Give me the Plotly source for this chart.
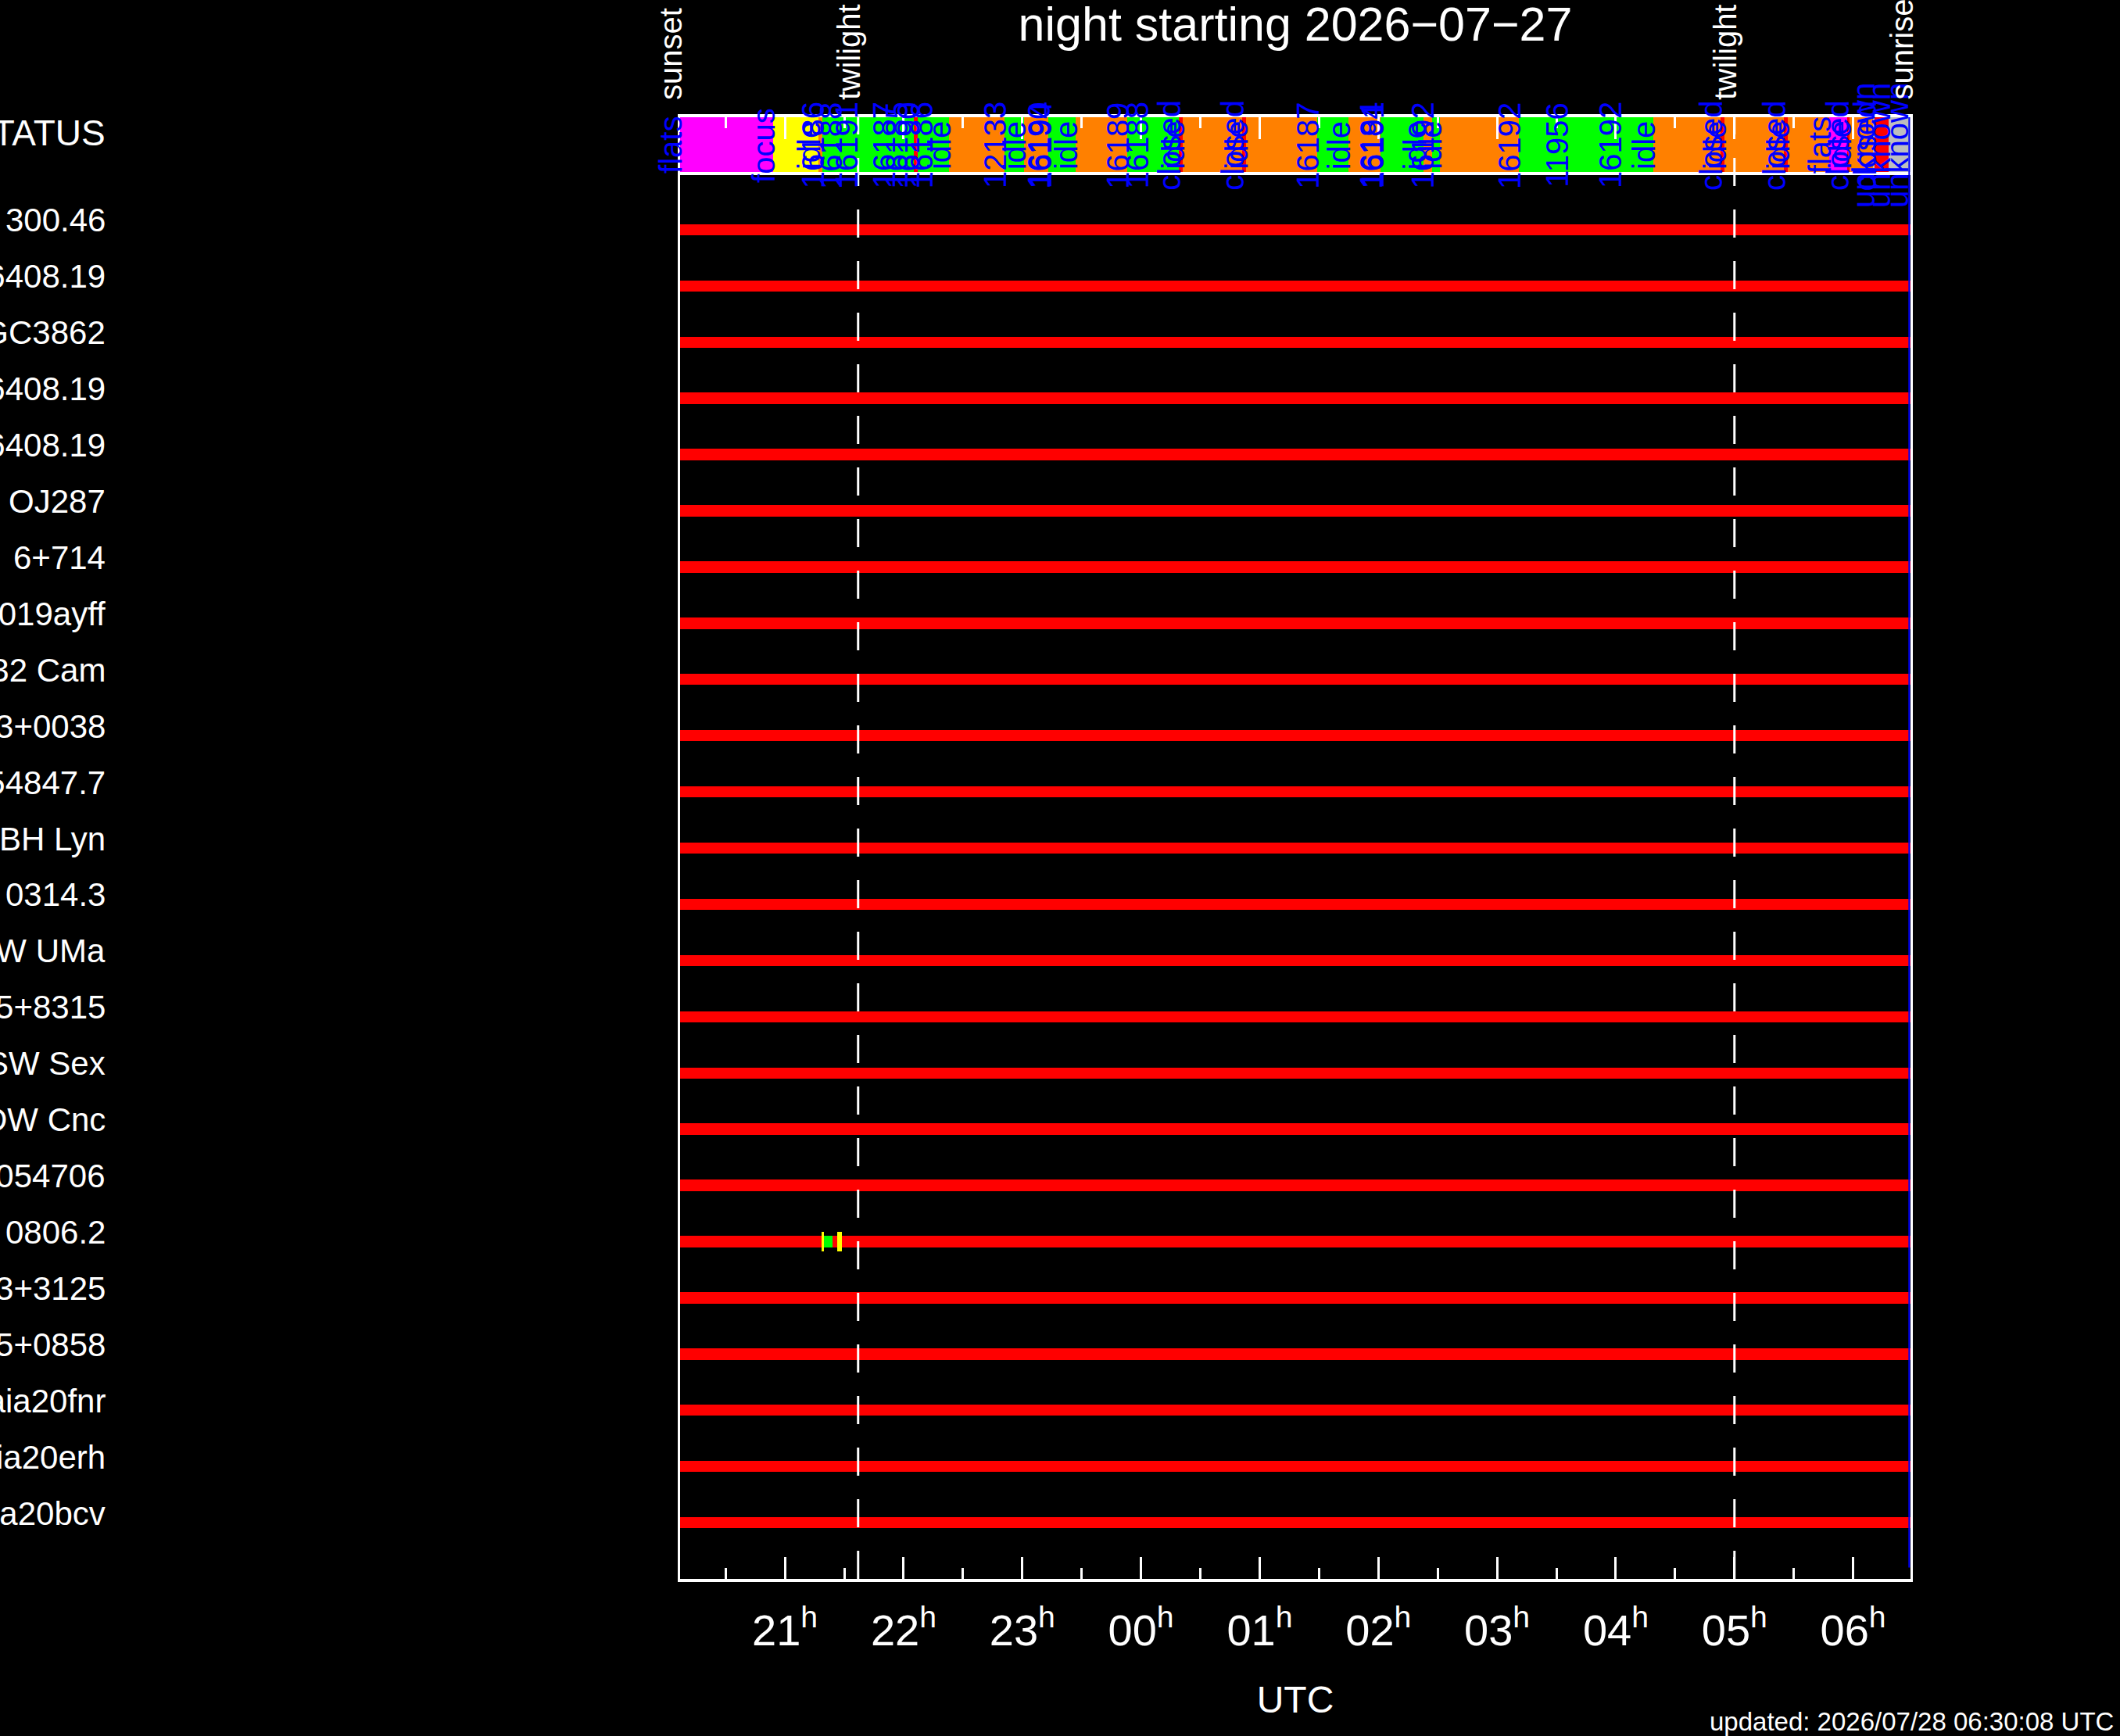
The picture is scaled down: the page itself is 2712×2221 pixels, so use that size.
import plotly.graph_objects as go

# ------ NIGHT (UTC) ------
night_date = "2026-07-27"
updated = "2026/07/28 06:30:08 UTC"
sunset = "20:07"
sunrise = "06:29"
twilight_times = ["21:37", "05:00"]
tick_hours = [21, 22, 23, 24, 25, 26, 27, 28, 29, 30]
tick_names = ["21", "22", "23", "00", "01", "02", "03", "04", "05", "06"]

# ------ TARGETS (top to bottom) ------
targets = ["300.46", "J16408.19", "NGC3862", "J16408.19", "J16408.19", "OJ287",
           "6+714", "SN2019ayff", "V432 Cam", "J0823+0038", "J054847.7", "BH Lyn",
           "0314.3", "DW UMa", "J0125+8315", "SW Sex", "DW Cnc", "J0054706",
           "0806.2", "J0713+3125", "J1415+0858", "Gaia20fnr", "Gaia20erh", "Gaia20bcv"]

# observation actually taken (row of 0806.2)
obs_target = "0806.2"
obs_exposure = ["21:19", "21:24"]
obs_marks = ["21:19", "21:27", "21:28"]

# ------ TELESCOPE STATUS ------
seg_start = ["20:07", "20:54", "21:17", "21:19", "21:28", "21:36", "21:55", "22:01",
             "22:05", "22:07", "22:14", "22:23", "22:51", "23:01", "23:13", "23:14",
             "23:27", "23:53", "24:03", "24:19", "24:21", "24:51", "24:53", "25:29",
             "25:45", "26:01", "26:02", "26:23", "26:27", "26:31", "27:11", "27:35",
             "28:02", "28:19", "28:53", "28:55", "29:25", "29:27", "29:48", "29:57",
             "29:58", "30:10", "30:11", "30:18", "30:27"]
seg_state = ["flats", "focus", "idle", "obs", "obs", "obs", "obs", "obs",
             "closed", "obs", "obs", "idle", "obs", "idle", "obs", "obs",
             "idle", "obs", "obs", "closed", "idle", "closed", "idle", "obs",
             "idle", "obs", "obs", "idle", "obs", "idle", "obs", "obs",
             "obs", "idle", "closed", "idle", "closed", "idle", "flats", "closed",
             "idle", "unknown", "closed", "unknown", "unknown"]
seg_label = ["flats", "focus", "idle", "16186", "16188", "16191", "16187", "16185",
             "", "16190", "16186", "idle", "12133", "idle", "16190", "16194",
             "idle", "16189", "16188", "closed", "idle", "closed", "idle", "16187",
             "idle", "16184", "16191", "idle", "16192", "idle", "16192", "11956",
             "16192", "idle", "closed", "idle", "closed", "idle", "flats", "closed",
             "idle", "unknown", "closed", "unknown", "unknown"]

state_colors = {"flats": "#ff00ff", "focus": "#ffff00", "idle": "#ff8000",
                "obs": "#00ff00", "closed": "#ff0000", "unknown": "#bebebe"}


def hours(s):
    h, m = map(int, s.split(":"))
    v = h + m / 60
    return v + 24 if v < 12 else v


t0 = hours(sunset)
t1 = hours(sunrise)
starts = [hours(s) for s in seg_start]
ends = starts[1:] + [t1]
rows = list(range(1, len(targets) + 1))
obs_row = targets.index(obs_target) + 1

fig = go.Figure()

# ------ STATUS BAR ------
fig.add_trace(go.Bar(
    orientation="h", y=[-0.5] * len(starts), base=starts,
    x=[e - s for s, e in zip(starts, ends)], width=1,
    marker=dict(color=[state_colors[s] for s in seg_state], line_width=0),
    hoverinfo="skip"))

# ------ TARGET ROWS ------
fig.add_trace(go.Bar(
    orientation="h", y=rows, base=[t0] * len(rows), x=[t1 - t0] * len(rows),
    width=0.2, marker=dict(color="#ff0000", line_width=0), hoverinfo="skip"))

e0, e1 = hours(obs_exposure[0]), hours(obs_exposure[1])
fig.add_trace(go.Bar(
    orientation="h", y=[obs_row], base=[e0], x=[e1 - e0], width=0.2,
    marker=dict(color="#00ff00", line_width=0), hoverinfo="skip"))

mw = 0.022
fig.add_trace(go.Bar(
    orientation="h", y=[obs_row] * len(obs_marks),
    base=[hours(m) - mw / 2 for m in obs_marks], x=[mw] * len(obs_marks),
    width=0.34, marker=dict(color="#ffff00", line_width=0), hoverinfo="skip"))

# ------ TWILIGHT LINES ------
for t in twilight_times:
    fig.add_shape(type="line", xref="x", yref="y", x0=hours(t), x1=hours(t),
                  y0=25, y1=-1, line=dict(color="white", width=3, dash="36px,30px"))
fig.add_shape(type="line", xref="paper", yref="y", x0=0, x1=1, y0=0, y1=0,
              line=dict(color="white", width=4))
# thin blue edge at sunrise
fig.add_shape(type="line", xref="x", yref="y", x0=t1 - 0.011, x1=t1 - 0.011,
              y0=-1, y1=24.8, line=dict(color="#0000ff", width=2))

# ------ TEXT ------
for s, lab in zip(starts, seg_label):
    if lab:
        fig.add_annotation(x=s, y=-0.5, xref="x", yref="y", text=lab, showarrow=False,
                           textangle=-90, xanchor="right", yanchor="middle", xshift=12,
                           font=dict(family="Liberation Sans", size=40, color="#0000ff"))

for t, lab in zip([sunset] + twilight_times + [sunrise],
                  ["sunset", "twilight", "twilight", "sunrise"]):
    fig.add_annotation(x=hours(t), y=-1, xref="x", yref="y", text=lab, showarrow=False,
                       textangle=-90, xanchor="right", yanchor="bottom", xshift=12, yshift=20,
                       font=dict(family="Liberation Sans", size=40, color="white"))

label_x = (137 - 870) / 1574
fig.add_annotation(x=label_x, y=-0.5, xref="paper", yref="y", text="STATUS",
                   showarrow=False, xanchor="right", yanchor="middle", yshift=16,
                   font=dict(family="Liberation Sans", size=46, color="white"))
for r, name in zip(rows, targets):
    fig.add_annotation(x=label_x, y=r, xref="paper", yref="y", text=name,
                       showarrow=False, xanchor="right", yanchor="middle", yshift=12,
                       font=dict(family="Liberation Sans", size=42, color="white"))

fig.add_annotation(x=(2706 - 870) / 1574, y=(2020 - 2202) / 1870, xref="paper", yref="paper",
                   text=f"updated: {updated}", showarrow=False, xanchor="right",
                   yanchor="middle",
                   font=dict(family="Liberation Sans", size=33, color="white"))

# ------ LAYOUT ------
fig.update_layout(
    width=2712, height=2221,
    paper_bgcolor="black", plot_bgcolor="black",
    margin=dict(l=870, r=268, t=150, b=201),
    showlegend=False, barmode="overlay", bargap=0,
    title=dict(text=f"night starting {night_date.replace('-', '−')}", x=0.5, xref="paper",
               y=1 - 31 / 2221, yref="container", yanchor="middle", xanchor="center",
               font=dict(family="Liberation Sans", size=61, color="white")),
)

fig.update_xaxes(
    range=[t0, t1], tickmode="array", tickvals=tick_hours,
    ticktext=[f"{n}<sup>h</sup>" for n in tick_names],
    ticks="inside", ticklen=28, tickwidth=3, tickcolor="white",
    minor=dict(tickmode="array", tickvals=[h - 0.5 for h in tick_hours], ticks="inside",
               ticklen=14, tickwidth=3, tickcolor="white", showgrid=False),
    showline=True, linecolor="white", linewidth=4, mirror="ticks",
    showgrid=False, zeroline=False, ticklabelstandoff=14,
    tickfont=dict(family="Liberation Sans", size=56, color="white"),
    title=dict(text="UTC", standoff=42,
               font=dict(family="Liberation Sans", size=48, color="white")),
)
fig.update_yaxes(
    range=[25, -1], showticklabels=False, ticks="", showline=True, linecolor="white",
    linewidth=3, mirror=True, showgrid=False, zeroline=False,
)

fig.write_html("out.html", config={"displayModeBar": False}, post_script=(
    "document.body.style.margin='0';"
    "document.body.style.background='black';"
    "document.documentElement.style.background='black';"))
